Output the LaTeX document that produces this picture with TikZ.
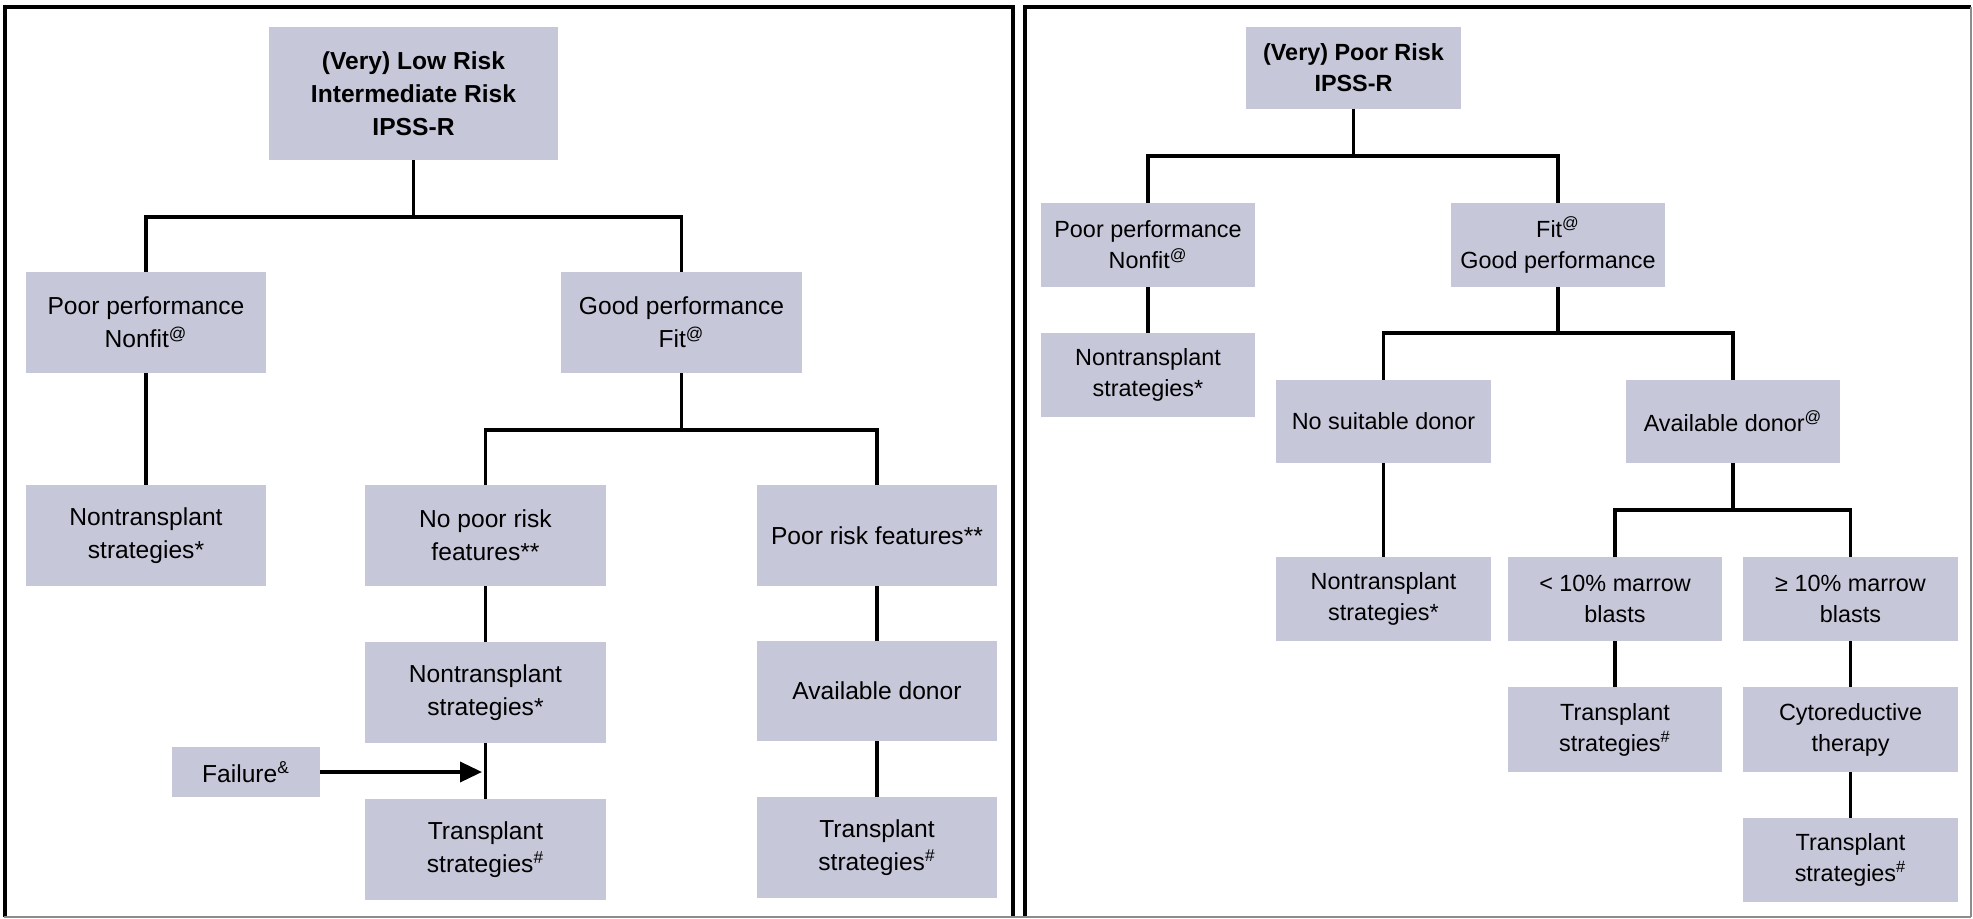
\documentclass[tikz,border=0pt]{standalone}
\usepackage{fontspec}
\setmainfont{Liberation Sans}
\usetikzlibrary{arrows.meta}
\definecolor{boxfill}{RGB}{198,200,217}
\newcommand\bx[7]{\node[box,#1,minimum width={(#5-#3)*0.5pt},minimum height={(#6-#4)*0.5pt}] (#2) at ({(#3+#5)/2},{(#4+#6)/2}) {#7};}
\begin{document}
\begin{tikzpicture}[x=0.5pt,y=-0.5pt,
  box/.style={fill=boxfill, inner sep=0pt, outer sep=0pt, align=center},
  fL/.style={font=\fontsize{12.3}{16.5}\selectfont},
  fR/.style={font=\fontsize{11.7}{15.5}\selectfont},
  conn/.style={line width=1.8pt, line join=miter},
  framethick/.style={line width=2pt, line join=miter},
  framethin/.style={line width=0.8pt, draw=black!45}]
\useasboundingbox (0,0) rectangle (1973,919);
% frames
\draw[framethick] (5,917) -- (5,7) -- (1013,7) -- (1013,917);
\draw[framethick] (1025,917) -- (1025,7) -- (1971,7);
\draw[framethin] (1971,7) -- (1971,917);
\draw[framethin] (4,917) -- (1971,917);
% ---------- left panel ----------
\bx{fL}{top1}{269}{27}{558}{160}{\textbf{(Very) Low Risk}\\\textbf{Intermediate Risk}\\\textbf{IPSS-R}}
\bx{fL}{pp1}{26}{272}{266}{373}{Poor performance\\Nonfit\textsuperscript{@}}
\bx{fL}{gp1}{561}{272}{802}{373}{Good performance\\Fit\textsuperscript{@}}
\bx{fL}{nt1}{26}{485}{266}{586}{Nontransplant\\strategies*}
\bx{fL}{npr}{365}{485}{606}{586}{No poor risk\\features**}
\bx{fL}{prf}{757}{485}{997}{586}{Poor risk features**}
\bx{fL}{nt2}{365}{642}{606}{743}{Nontransplant\\strategies*}
\bx{fL}{ad1}{757}{641}{997}{741}{Available donor}
\bx{fL}{fail}{172}{747}{320}{797}{Failure\textsuperscript{\&}}
\bx{fL}{ts1}{365}{799}{606}{900}{Transplant\\strategies\textsuperscript{\#}}
\bx{fL}{ts2}{757}{797}{997}{898}{Transplant\\strategies\textsuperscript{\#}}
\coordinate (b1) at (0,217);
\coordinate (b2) at (0,430);
\coordinate (fa) at (482,772);
\draw[conn] (top1.south) -- (top1.south |- b1);
\draw[conn] (pp1.north) -- (pp1.north |- b1) -- (gp1.north |- b1) -- (gp1.north);
\draw[conn] (pp1.south) -- (nt1.north);
\draw[conn] (gp1.south) -- (gp1.south |- b2);
\draw[conn] (npr.north) -- (npr.north |- b2) -- (prf.north |- b2) -- (prf.north);
\draw[conn] (npr.south) -- (nt2.north);
\draw[conn] (nt2.south) -- (ts1.north);
\draw[conn] (prf.south) -- (ad1.north);
\draw[conn] (ad1.south) -- (ts2.north);
\draw[conn, -{Triangle[length=11pt,width=10pt]}] (fail.east) -- (fa);
% ---------- right panel ----------
\bx{fR}{top2}{1246}{27}{1461}{109}{\textbf{(Very) Poor Risk}\\\textbf{IPSS-R}}
\bx{fR}{pp2}{1041}{203}{1255}{287}{Poor performance\\Nonfit\textsuperscript{@}}
\bx{fR}{fit2}{1451}{203}{1665}{287}{Fit\textsuperscript{@}\\Good performance}
\bx{fR}{nt3}{1041}{333}{1255}{417}{Nontransplant\\strategies*}
\bx{fR}{nsd}{1276}{380}{1491}{463}{No suitable donor}
\bx{fR}{ad2}{1626}{380}{1840}{463}{Available donor\textsuperscript{@}}
\bx{fR}{nt4}{1276}{557}{1491}{641}{Nontransplant\\strategies*}
\bx{fR}{lt10}{1508}{557}{1722}{641}{< 10\% marrow\\blasts}
\bx{fR}{ge10}{1743}{557}{1958}{641}{≥ 10\% marrow\\blasts}
\bx{fR}{ts3}{1508}{687}{1722}{772}{Transplant\\strategies\textsuperscript{\#}}
\bx{fR}{cyto}{1743}{687}{1958}{772}{Cytoreductive\\therapy}
\bx{fR}{ts4}{1743}{818}{1958}{902}{Transplant\\strategies\textsuperscript{\#}}
\coordinate (c1) at (0,156);
\coordinate (c2) at (0,333);
\coordinate (c3) at (0,510);
\draw[conn] (top2.south) -- (top2.south |- c1);
\draw[conn] (pp2.north) -- (pp2.north |- c1) -- (fit2.north |- c1) -- (fit2.north);
\draw[conn] (pp2.south) -- (nt3.north);
\draw[conn] (fit2.south) -- (fit2.south |- c2);
\draw[conn] (nsd.north) -- (nsd.north |- c2) -- (ad2.north |- c2) -- (ad2.north);
\draw[conn] (nsd.south) -- (nt4.north);
\draw[conn] (ad2.south) -- (ad2.south |- c3);
\draw[conn] (lt10.north) -- (lt10.north |- c3) -- (ge10.north |- c3) -- (ge10.north);
\draw[conn] (lt10.south) -- (ts3.north);
\draw[conn] (ge10.south) -- (cyto.north);
\draw[conn] (cyto.south) -- (ts4.north);
\end{tikzpicture}
\end{document}
